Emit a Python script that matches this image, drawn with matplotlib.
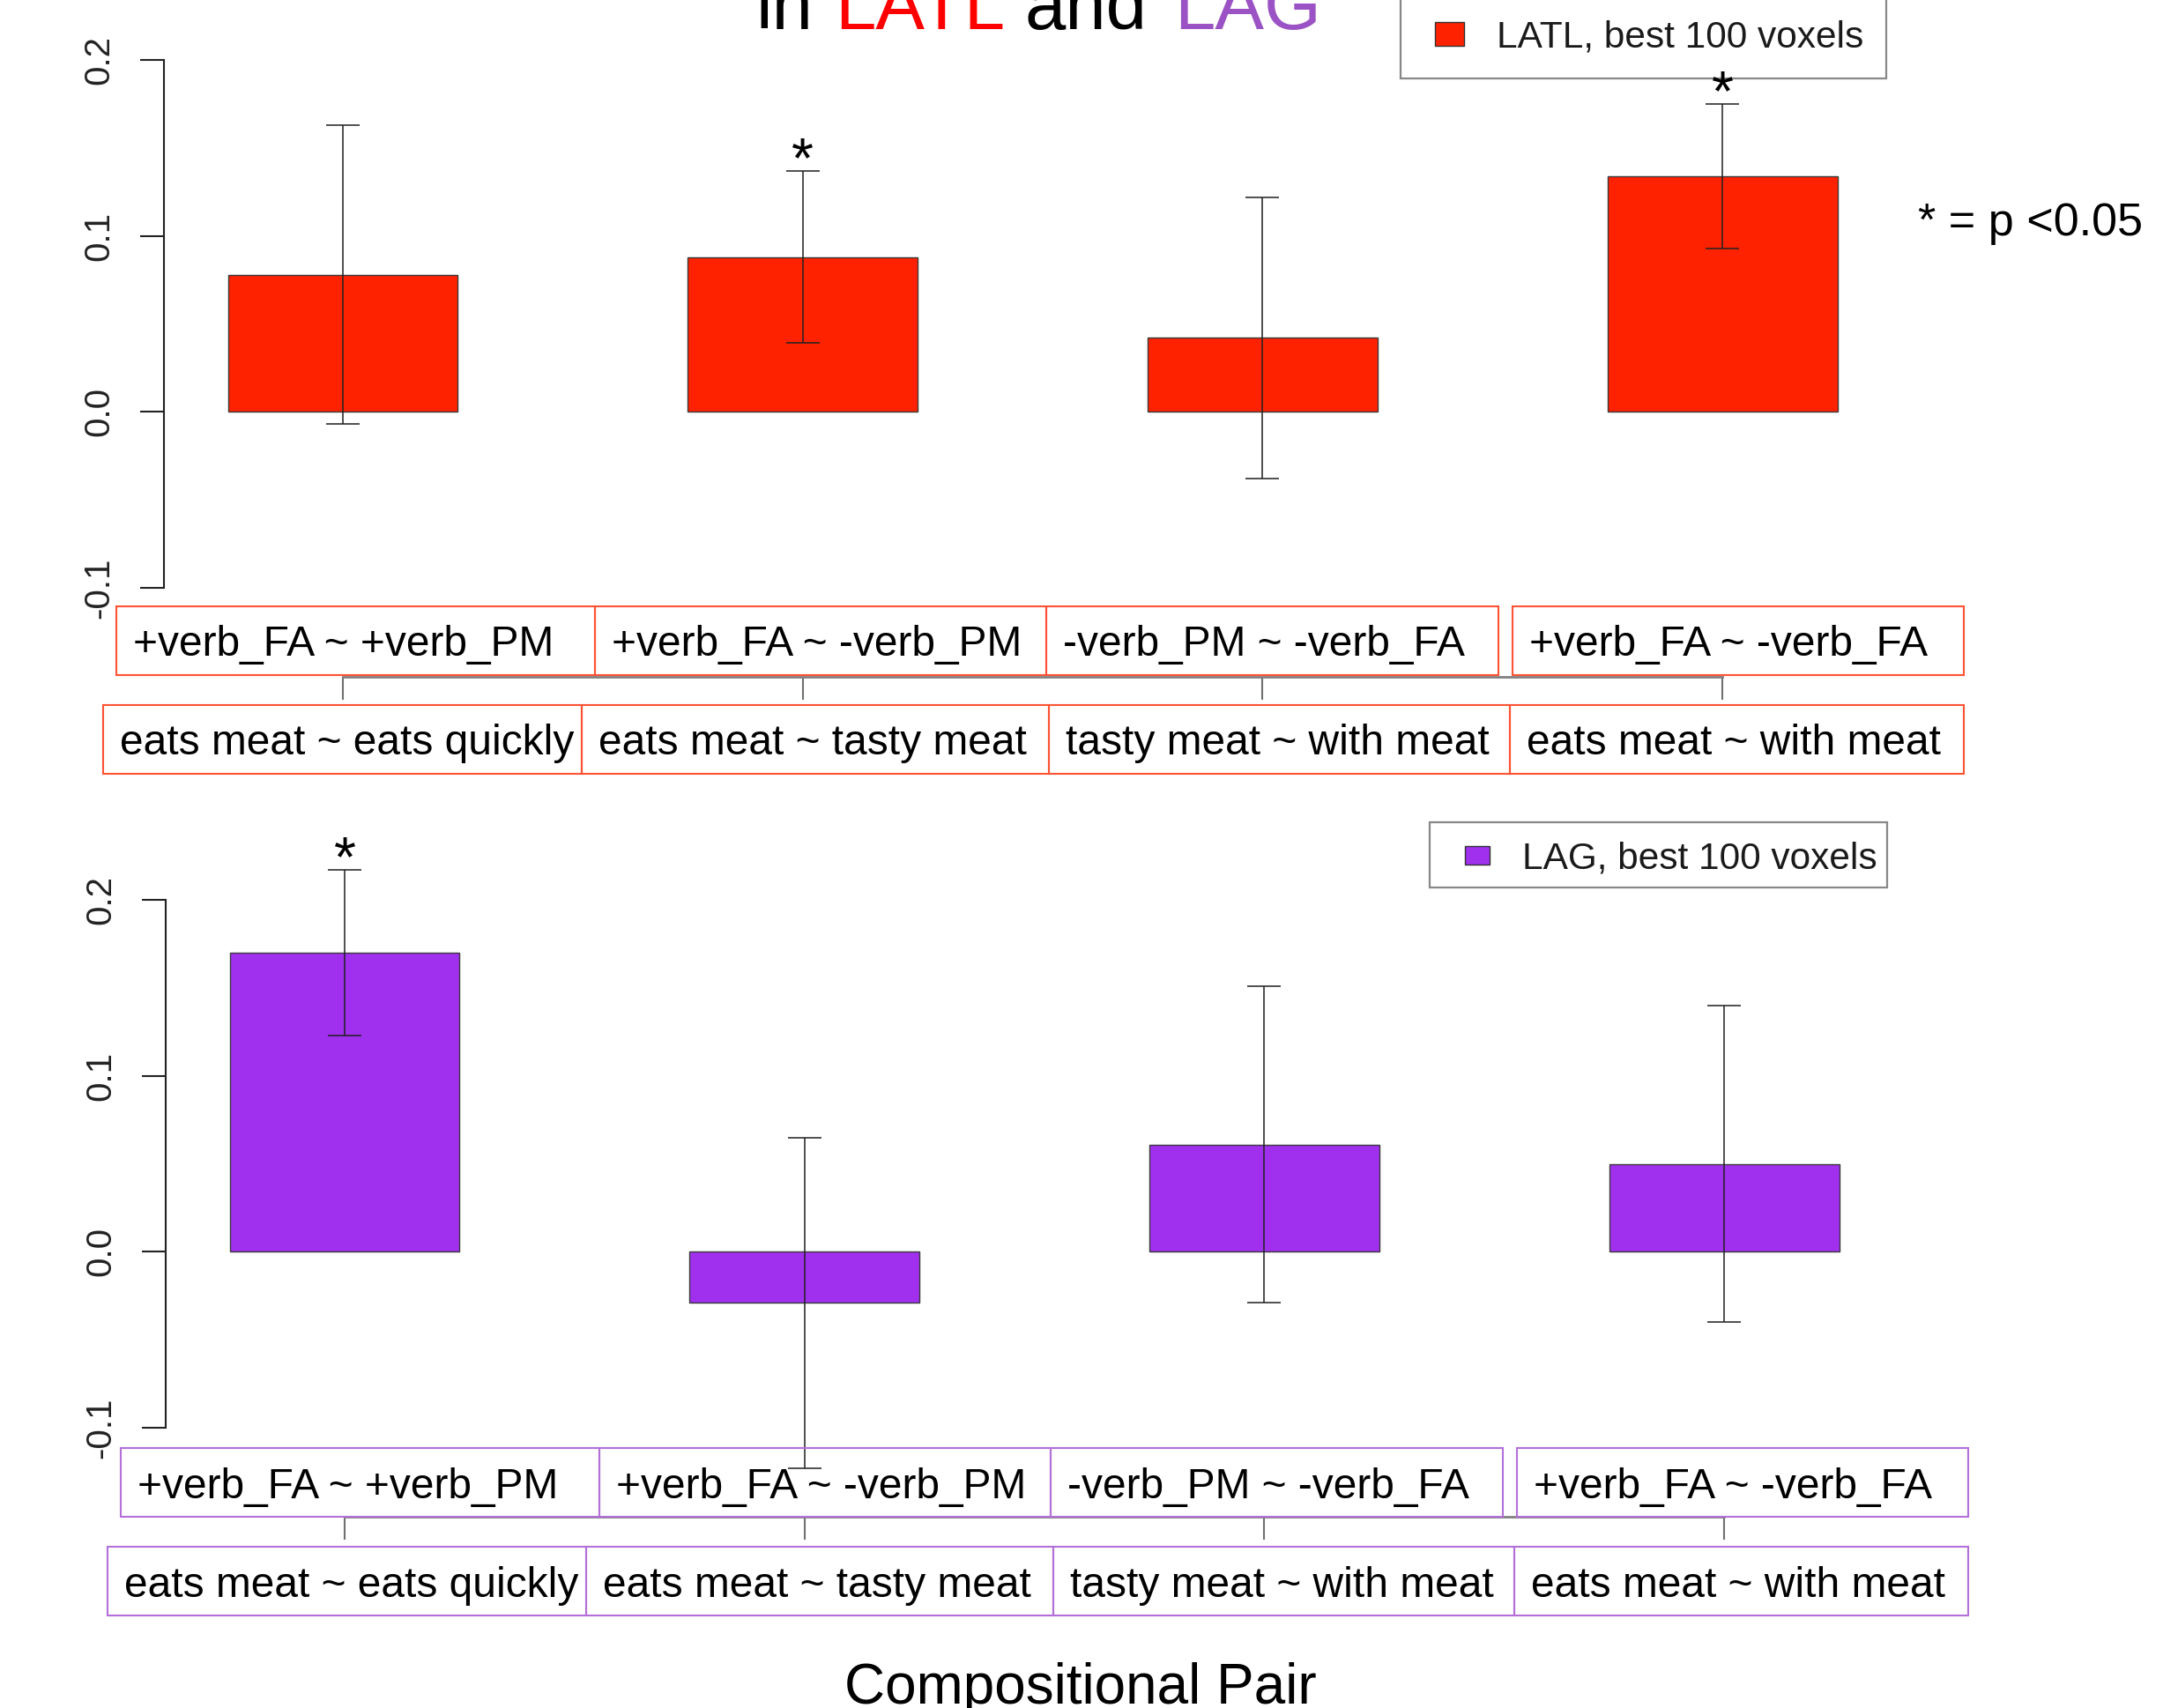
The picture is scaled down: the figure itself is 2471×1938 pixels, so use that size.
import matplotlib
matplotlib.use("Agg")
import numpy as np
import matplotlib.pyplot as plt
import matplotlib.patches as patches

plt.rcParams['font.family'] = ['Liberation Sans', 'DejaVu Sans']

# ------------------------------------------------------------------
# data
# ------------------------------------------------------------------
pair_labels = ['+verb_FA ~ +verb_PM', '+verb_FA ~ -verb_PM',
               '-verb_PM ~ -verb_FA', '+verb_FA ~ -verb_FA']
phrase_labels = ['eats meat ~ eats quickly', 'eats meat ~ tasty meat',
                 'tasty meat ~ with meat', 'eats meat ~ with meat']

latl_means = [0.078, 0.088, 0.042, 0.134]
latl_errs = [0.085, 0.049, 0.080, 0.041]
latl_sig = [False, True, False, True]

lag_means = [0.170, -0.029, 0.061, 0.050]
lag_errs = [0.047, 0.094, 0.090, 0.090]
lag_sig = [True, False, False, False]

y_ticks = [-0.1, 0.0, 0.1, 0.2]
y_ticklabels = ['-0.1', '0.0', '0.1', '0.2']

LATL_COLOR = '#FF2200'
LAG_COLOR = '#A02FEE'
LATL_BOX = '#FF5233'
LAG_BOX = '#B370D9'

W, H = 2471, 1938
fig = plt.figure(figsize=(W / 100, H / 100), dpi=100)


def fx(x):
    return x / W


def fy(y):
    return 1 - y / H


def px_rect(x0, y0, x1, y1, **kw):
    r = patches.Rectangle((fx(x0), fy(y1)), (x1 - x0) / W, (y1 - y0) / H,
                          transform=fig.transFigure, **kw)
    fig.add_artist(r)
    return r


def draw_panel(top, bottom, left, right, bar0, step, means, errs, sig, color,
               box_color, legend_label, legend_frame, swatch, label_dx, label_dy):
    ax = fig.add_axes([fx(left), fy(bottom), (right - left) / W, (bottom - top) / H])
    ax.patch.set_alpha(0)
    ax.set_xlim((left - bar0) / step, (right - bar0) / step)
    ax.set_ylim(-0.1, 0.2)
    x = np.arange(len(means))

    ax.bar(x, means, width=0.5, color=color, edgecolor='#3a3a3a', linewidth=1.0, zorder=2)
    eb = ax.errorbar(x, means, yerr=errs, fmt='none', ecolor='#222222', elinewidth=1.4,
                     capsize=14, capthick=1.4, alpha=0.8, zorder=3)
    for art in list(eb.lines[1]) + list(eb.lines[2]):
        art.set_clip_on(False)

    for i, s in enumerate(sig):
        if s:
            ax.annotate('*', xy=(x[i], means[i] + errs[i]), xytext=(0, 7),
                        textcoords='offset points', ha='center', va='center',
                        fontsize=46, annotation_clip=False)

    for side in ['top', 'right']:
        ax.spines[side].set_visible(False)
    ax.spines['left'].set_bounds(-0.1, 0.2)
    ax.spines['left'].set_color('#222222')
    ax.spines['left'].set_linewidth(1.5)
    ax.spines['bottom'].set_position(('outward', 73))
    ax.spines['bottom'].set_bounds(0, len(means) - 1)
    ax.spines['bottom'].set_color('#808080')
    ax.spines['bottom'].set_linewidth(2.0)

    ax.set_yticks(y_ticks)
    ax.set_yticklabels(y_ticklabels, rotation=90, va='center', fontsize=29, color='#222222')
    ax.tick_params(axis='y', length=19.5, width=1.5, color='#222222', pad=20)
    ax.set_xticks(x)
    ax.set_xticklabels([])
    ax.tick_params(axis='x', length=19, width=1.5, color='#707070')

    # legend (R style box), drawn below the axes so the stars sit on top
    lx0, ly0, lx1, ly1 = legend_frame
    px_rect(lx0, ly0, lx1, ly1, facecolor='white', edgecolor='#888888', linewidth=1.6, zorder=-1)
    sx0, sy0, sx1, sy1 = swatch
    px_rect(sx0, sy0, sx1, sy1, facecolor=color, edgecolor='#333333', linewidth=1.0, zorder=-1)
    fig.text(fx(sx1 + 37), fy((sy0 + sy1) / 2 + 4), legend_label, fontsize=30.5,
             color='#1a1a1a', ha='left', va='center', zorder=4)

    # label boxes under the axis
    row1 = [(132, 675), (675, 1187), (1187, 1700), (1716, 2228)]
    row2 = [(117, 660), (660, 1190), (1190, 1713), (1713, 2228)]
    for labels, edges, (yt, yb) in [(pair_labels, row1, (688, 766)),
                                    (phrase_labels, row2, (800, 878))]:
        for lab, (a, b) in zip(labels, edges):
            px_rect(a + label_dx, yt + label_dy, b + label_dx, yb + label_dy,
                    facecolor='none', edgecolor=box_color, linewidth=1.5, zorder=2)
            fig.text(fx(a + label_dx + 19), fy((yt + yb) / 2 + label_dy + 5), lab,
                     fontsize=34.5, color='black', ha='left', va='center', zorder=4)
    return ax


draw_panel(68, 667, 186, 2267, 389, 521.7, latl_means, latl_errs, latl_sig,
           LATL_COLOR, LATL_BOX, 'LATL, best 100 voxels',
           (1589, -13, 2140, 89), (1628, 25, 1661, 52), 0, 0)
draw_panel(1021, 1620, 188, 2269, 391, 521.7, lag_means, lag_errs, lag_sig,
           LAG_COLOR, LAG_BOX, 'LAG, best 100 voxels',
           (1622, 933, 2141, 1007), (1662, 960, 1690, 981), 5, 955)

# title (first line falls off the canvas, as in the original)
title_parts = [('in', 'black', 857), ('LATL', '#FF0000', 947),
               ('and', 'black', 1163), ('LAG', '#9A52C4', 1332)]
for txt, col, xp in title_parts:
    fig.text(fx(xp), fy(33), txt, color=col, fontsize=60, ha='left', va='baseline')

fig.text(fx(2176), fy(253), '* = p <0.05', fontsize=37.5, ha='left', va='center')
fig.text(fx(1226), fy(1933), 'Compositional Pair', fontsize=46, ha='center', va='baseline')

fig.savefig('out.png', dpi=100)
